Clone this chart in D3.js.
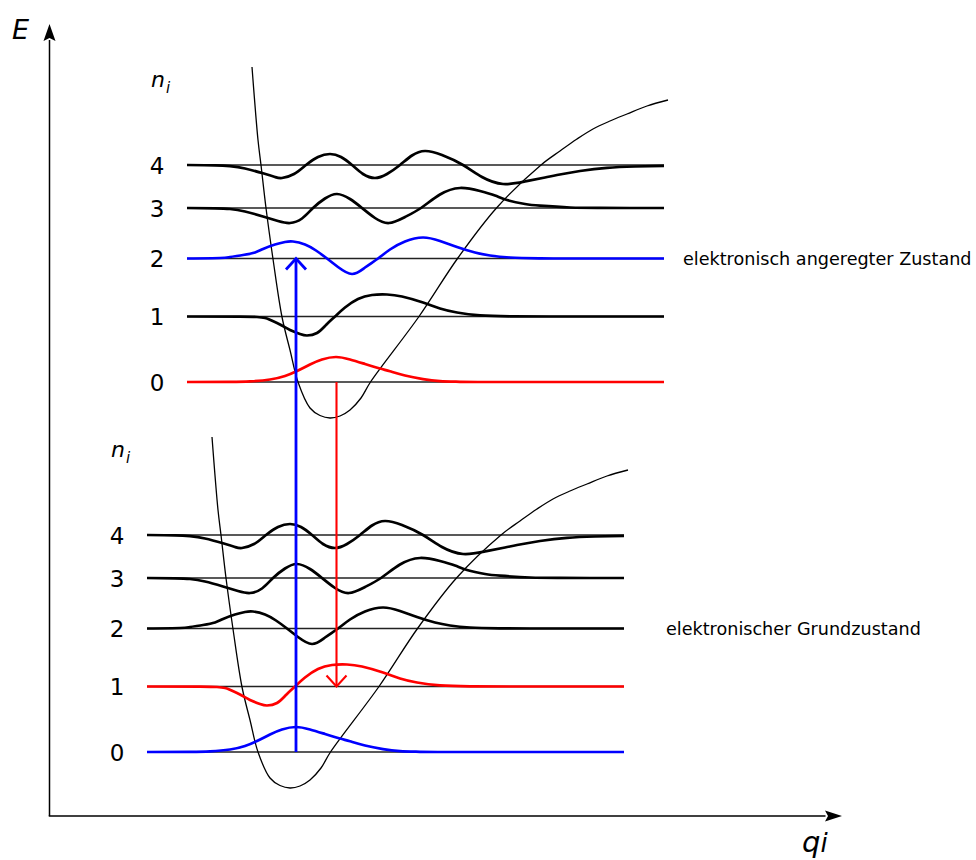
<!DOCTYPE html>
<html>
<head>
<meta charset="utf-8">
<script src="https://cdn.jsdelivr.net/npm/d3@7/dist/d3.min.js"></script>
<style>
  html, body { margin: 0; padding: 0; background: #fff; }
  svg { display: block; }
  text { font-family: "DejaVu Sans", sans-serif; fill: #000; }
</style>
</head>
<body>
<svg id="chart" width="976" height="860"></svg>
<script>
// Franck–Condon scheme: two electronic potentials with vibrational levels
// and their wavefunctions; absorption (blue) and emission (red).

// electronic states (0 = ground, 1 = excited)
const stateNames = ["elektronischer Grundzustand", "elektronisch angeregter Zustand"];
const wellMinQ = [24.05, 28.05];   // position of the potential minimum
const wellMinE = [2.8, 39.8];      // energy of the potential minimum

// vibrational levels, energy above the minimum
const levelNumbers = ["0", "1", "2", "3", "4"];
const levelEnergies = [3.6, 10.15, 15.95, 21.0, 25.3];
const levelSpan = [-14.3, 33.4];   // q-range of level lines relative to minimum

// potential curve (q, E) relative to the minimum
const potential = [
  [-7.8, 35.1], [-7.2, 27.8], [-6.9, 25.3], [-6.4, 21.0], [-5.7, 15.9],
  [-4.8, 10.1], [-4.0, 6.8], [-3.2, 3.6], [-2.0, 1.0], [-1.0, 0.25],
  [0, 0], [1.0, 0.2], [2.0, 0.8], [3.1, 2.0], [4.05, 3.6],
  [8.9, 10.15], [12.75, 15.95], [16.65, 21.0], [21.1, 25.3], [23.0, 26.7],
  [24.7, 27.9], [26.3, 28.9], [28.0, 29.7], [29.7, 30.4], [31.7, 31.2],
  [33.8, 31.8]
];

// vibrational wavefunctions (q relative to minimum, amplitude above level)
const psi0 = [
  [-14.3, 0], [-10, 0.01], [-8, 0.06], [-6, 0.25], [-4.5, 0.6], [-3.3, 1.1],
  [-2, 1.75], [-0.8, 2.25], [0.6, 2.5], [2, 2.25], [3.5, 1.8], [5, 1.35],
  [6, 1.07], [7.5, 0.65], [9.3, 0.28], [11, 0.08], [13, 0.02], [16, 0], [33.4, 0]
];
const psi1 = [
  [-14.3, 0], [-9, -0.01], [-7.3, -0.05], [-6.5, -0.15], [-6, -0.33], [-5, -0.8],
  [-4, -1.35], [-3, -1.75], [-2.3, -1.9], [-1.3, -1.65], [-0.4, -0.85], [0.5, 0],
  [1.5, 0.9], [2.8, 1.75], [4.2, 2.15], [5.7, 2.2], [7.2, 2.0], [9.3, 1.4],
  [11, 0.8], [12.7, 0.4], [15, 0.12], [18, 0.02], [22, 0], [33.4, 0]
];
const psi2 = [
  [-14.3, 0], [-11, 0.05], [-10, 0.15], [-8.7, 0.35], [-7.5, 0.6], [-6.7, 0.95],
  [-5.5, 1.4], [-4.5, 1.65], [-3.7, 1.7], [-2.5, 1.4], [-1.4, 0.8], [-0.3, 0],
  [0.8, -0.85], [2.2, -1.55], [3.5, -0.9], [4.8, 0], [6, 0.9], [7.5, 1.7],
  [9.3, 2.1], [11, 1.75], [12.7, 1.15], [14.5, 0.6], [16, 0.3], [18, 0.1],
  [21, 0.02], [24, 0], [33.4, 0]
];
const psi3 = [
  [-14.3, 0], [-11.5, -0.03], [-10, -0.1], [-8.5, -0.35], [-6.7, -0.85],
  [-5.2, -1.3], [-4, -1.5], [-2.8, -1.05], [-1.7, 0], [-0.5, 0.95], [0.7, 1.4],
  [2, 0.9], [3.2, 0], [4.5, -1.0], [5.9, -1.5], [7.5, -0.9], [9.1, 0], [11, 1.35],
  [13, 2.0], [15, 1.7], [16.5, 1.25], [17.7, 0.8], [19.5, 0.4], [21, 0.23],
  [24, 0.05], [27, 0.01], [30, 0], [33.4, 0]
];
const psi4 = [
  [-14.3, 0], [-11.5, -0.03], [-10, -0.12], [-8.5, -0.35], [-6.7, -0.83],
  [-5.5, -1.2], [-4.8, -1.3], [-3.6, -0.9], [-2.4, 0], [-1.2, 0.8], [0, 1.1],
  [1.1, 0.8], [2.2, 0], [3.3, -0.9], [4.5, -1.3], [5.7, -0.9], [7, 0], [8.2, 0.95],
  [9.5, 1.4], [11.2, 1.0], [13.3, 0], [15.2, -1.2], [17.3, -1.9], [19.5, -1.65],
  [21.5, -1.25], [22.7, -1.0], [25, -0.6], [27.7, -0.28], [30.5, -0.15], [33.4, -0.09]
];
const wavefunctions = [psi0, psi1, psi2, psi3, psi4];

// vertical transitions: q position, [state, level] start and end
const transitionQ = [24.65, 28.7];
const transitionFrom = [[0, 0], [1, 0]];
const transitionTo = [[1, 2], [0, 1]];

// ---------------------------------------------------------------------------
const svg = d3.select("#chart");
const qScale = d3.scaleLinear().domain([0, 79.25]).range([49.5, 842]);
const eScale = d3.scaleLinear().domain([0, 79.2]).range([816, 24]);

const transColors = ["#0000ff", "#ff0000"];
const transWidths = [2.8, 2.1];

// colour of a level: belongs to which transition?
function levelColor(s, n) {
  for (let t = 0; t < transitionQ.length; t++) {
    const a = transitionFrom[t], b = transitionTo[t];
    if ((a[0] === s && a[1] === n) || (b[0] === s && b[1] === n)) return transColors[t];
  }
  return "#000";
}

const curveLine = d3.line()
  .x(d => qScale(d[0])).y(d => eScale(d[1]))
  .curve(d3.curveNatural);
const potLine = d3.line()
  .x(d => qScale(d[0])).y(d => eScale(d[1]))
  .curve(d3.curveCatmullRom.alpha(0.5));

// axes with arrowheads
const g = svg.append("g");
const x0 = qScale(0), y0 = eScale(0);
g.append("line").attr("x1", x0).attr("y1", y0).attr("x2", x0).attr("y2", eScale(77.6))
  .attr("stroke", "#000").attr("stroke-width", 1.5);
g.append("line").attr("x1", x0 - 0.75).attr("y1", y0).attr("x2", qScale(77.6)).attr("y2", y0)
  .attr("stroke", "#000").attr("stroke-width", 1.5);
const yTip = eScale(79.2), xTip = qScale(79.25);
g.append("path")
  .attr("d", `M${x0},${yTip} L${x0 - 6},${yTip + 17} L${x0},${yTip + 14} L${x0 + 6},${yTip + 17} Z`)
  .attr("fill", "#000");
g.append("path")
  .attr("d", `M${xTip},${y0} L${xTip - 17},${y0 - 5.5} L${xTip - 14},${y0} L${xTip - 17},${y0 + 5.5} Z`)
  .attr("fill", "#000");

g.append("text").attr("x", 12).attr("y", 39)
  .style("font-size", "27px").style("font-style", "italic").text("E");
const qLab = g.append("text").attr("x", 802).attr("y", 852)
  .style("font-size", "29px").style("font-style", "italic");
qLab.append("tspan").text("q");
qLab.append("tspan").attr("dy", 0).style("font-size", "26px").text("i");

// each electronic state
stateNames.forEach((name, s) => {
  const qm = wellMinQ[s], em = wellMinE[s];
  const sg = svg.append("g");

  // level lines
  levelEnergies.forEach((le, n) => {
    sg.append("line")
      .attr("x1", qScale(qm + levelSpan[0])).attr("x2", qScale(qm + levelSpan[1]))
      .attr("y1", eScale(em + le)).attr("y2", eScale(em + le))
      .attr("stroke", "#222").attr("stroke-width", 1.3);
    sg.append("text")
      .attr("x", qScale(qm - 17.3)).attr("y", eScale(em + le) + 8.5)
      .attr("text-anchor", "middle").style("font-size", "23px")
      .text(levelNumbers[n]);
  });

  // n_i label
  const nl = sg.append("text").attr("x", qScale(qm - 17.9)).attr("y", eScale(em + 33.1))
    .style("font-size", "22px").style("font-style", "italic");
  nl.append("tspan").text("n");
  nl.append("tspan").attr("dy", 6).attr("dx", 1).style("font-size", "15px").text("i");

  // potential curve
  sg.append("path")
    .attr("d", potLine(potential.map(p => [qm + p[0], em + p[1]])))
    .attr("fill", "none").attr("stroke", "#000").attr("stroke-width", 1.3);

  // wavefunctions
  wavefunctions.forEach((wf, n) => {
    sg.append("path")
      .attr("d", curveLine(wf.map(p => [qm + p[0], em + levelEnergies[n] + p[1]])))
      .attr("fill", "none").attr("stroke", levelColor(s, n))
      .attr("stroke-width", 2.7).attr("stroke-linejoin", "round");
  });
});

// state names
const nameAnchorQ = [61.65, 63.35];
stateNames.forEach((name, s) => {
  svg.append("text")
    .attr("x", qScale(nameAnchorQ[s]))
    .attr("y", eScale(wellMinE[s] + levelEnergies[2]) + 6)
    .style("font-size", "17.6px").text(name);
});

// transitions
transitionQ.forEach((q, t) => {
  const a = transitionFrom[t], b = transitionTo[t];
  const yA = eScale(wellMinE[a[0]] + levelEnergies[a[1]]);
  const yB = eScale(wellMinE[b[0]] + levelEnergies[b[1]]);
  const x = qScale(q);
  const dir = yB < yA ? 1 : -1;   // arms below tip when pointing up
  svg.append("line").attr("x1", x).attr("x2", x).attr("y1", yA).attr("y2", yB)
    .attr("stroke", transColors[t]).attr("stroke-width", transWidths[t]);
  svg.append("path")
    .attr("d", `M${x - 10},${yB + dir * 11} L${x},${yB} L${x + 10},${yB + dir * 11}`)
    .attr("fill", "none").attr("stroke", transColors[t])
    .attr("stroke-width", transWidths[t]);
});
</script>
</body>
</html>
